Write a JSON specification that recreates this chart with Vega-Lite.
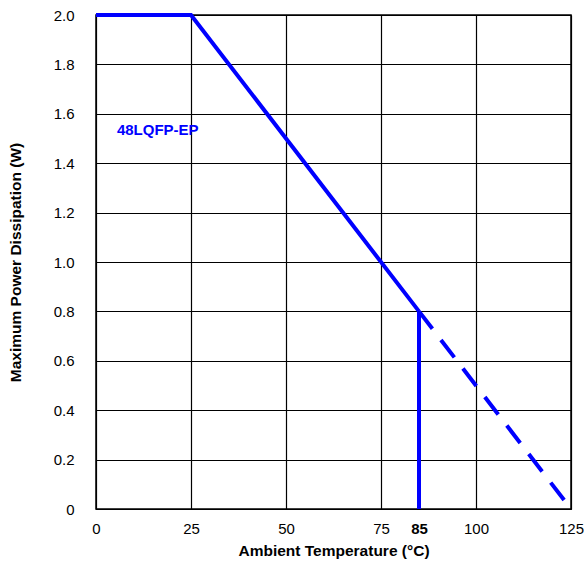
{
  "$schema": "https://vega.github.io/schema/vega-lite/v6.json",
  "width": 475,
  "height": 494,
  "autosize": "none",
  "padding": {"left": 96, "top": 15, "right": 13, "bottom": 57},
  "background": "white",
  "config": {
    "view": {"stroke": "black", "strokeWidth": 1.5},
    "font": "Liberation Sans",
    "axis": {
      "gridColor": "black",
      "gridWidth": 1.2,
      "gridOpacity": 1,
      "domainColor": "black",
      "tickSize": 0,
      "labelFont": "Liberation Sans",
      "labelFontSize": 15,
      "labelColor": "black",
      "labelFlush": false,
      "labelBound": false,
      "labelOverlap": false,
      "titleFont": "Liberation Sans",
      "titleFontSize": 15.5,
      "titleFontWeight": "bold",
      "titleColor": "black"
    }
  },
  "datasets": {
    "solid": [
      {"t": 0, "p": 2.0, "seg": "a", "o": 1},
      {"t": 25, "p": 2.0, "seg": "a", "o": 2},
      {"t": 85, "p": 0.8, "seg": "a", "o": 3},
      {"t": 85, "p": 0.8, "seg": "b", "o": 1},
      {"t": 85, "p": 0.0, "seg": "b", "o": 2}
    ],
    "dashed": [
      {"t": 85, "p": 0.8},
      {"t": 125, "p": 0.0}
    ],
    "label": [
      {"t": 5.5, "p": 1.535, "text": "48LQFP-EP"}
    ]
  },
  "layer": [
    {
      "data": {"name": "solid"},
      "mark": {"type": "line", "color": "#0000FF", "strokeWidth": 4, "strokeCap": "butt", "strokeJoin": "miter"},
      "encoding": {
        "x": {
          "field": "t", "type": "quantitative",
          "scale": {"domain": [0, 125], "nice": false, "zero": false},
          "axis": {
            "values": [0, 25, 50, 75, 85, 100, 125],
            "title": "Ambient Temperature (°C)",
            "labelPadding": 12,
            "titlePadding": 7,
            "labelFontWeight": {"condition": {"test": "datum.value == 85", "value": "bold"}, "value": "normal"},
            "gridOpacity": {"condition": {"test": "datum.value == 85", "value": 0}, "value": 1}
          }
        },
        "y": {
          "field": "p", "type": "quantitative",
          "scale": {"domain": [0, 2], "nice": false},
          "axis": {
            "values": [0, 0.2, 0.4, 0.6, 0.8, 1.0, 1.2, 1.4, 1.6, 1.8, 2.0],
            "labelExpr": "datum.value == 0 ? '0' : format(datum.value, '.1f')",
            "title": "Maximum Power Dissipation (W)",
            "labelPadding": 22,
            "titlePadding": 30
          }
        },
        "detail": {"field": "seg"},
        "order": {"field": "o"}
      }
    },
    {
      "data": {"name": "dashed"},
      "mark": {"type": "line", "color": "#0000FF", "strokeWidth": 4, "strokeDash": [22, 14], "strokeCap": "butt"},
      "encoding": {
        "x": {"field": "t", "type": "quantitative"},
        "y": {"field": "p", "type": "quantitative"}
      }
    },
    {
      "data": {"name": "label"},
      "mark": {"type": "text", "color": "#0000FF", "fontWeight": "bold", "fontSize": 15, "align": "left", "baseline": "middle", "font": "Liberation Sans"},
      "encoding": {
        "x": {"field": "t", "type": "quantitative"},
        "y": {"field": "p", "type": "quantitative"},
        "text": {"field": "text"}
      }
    }
  ]
}
